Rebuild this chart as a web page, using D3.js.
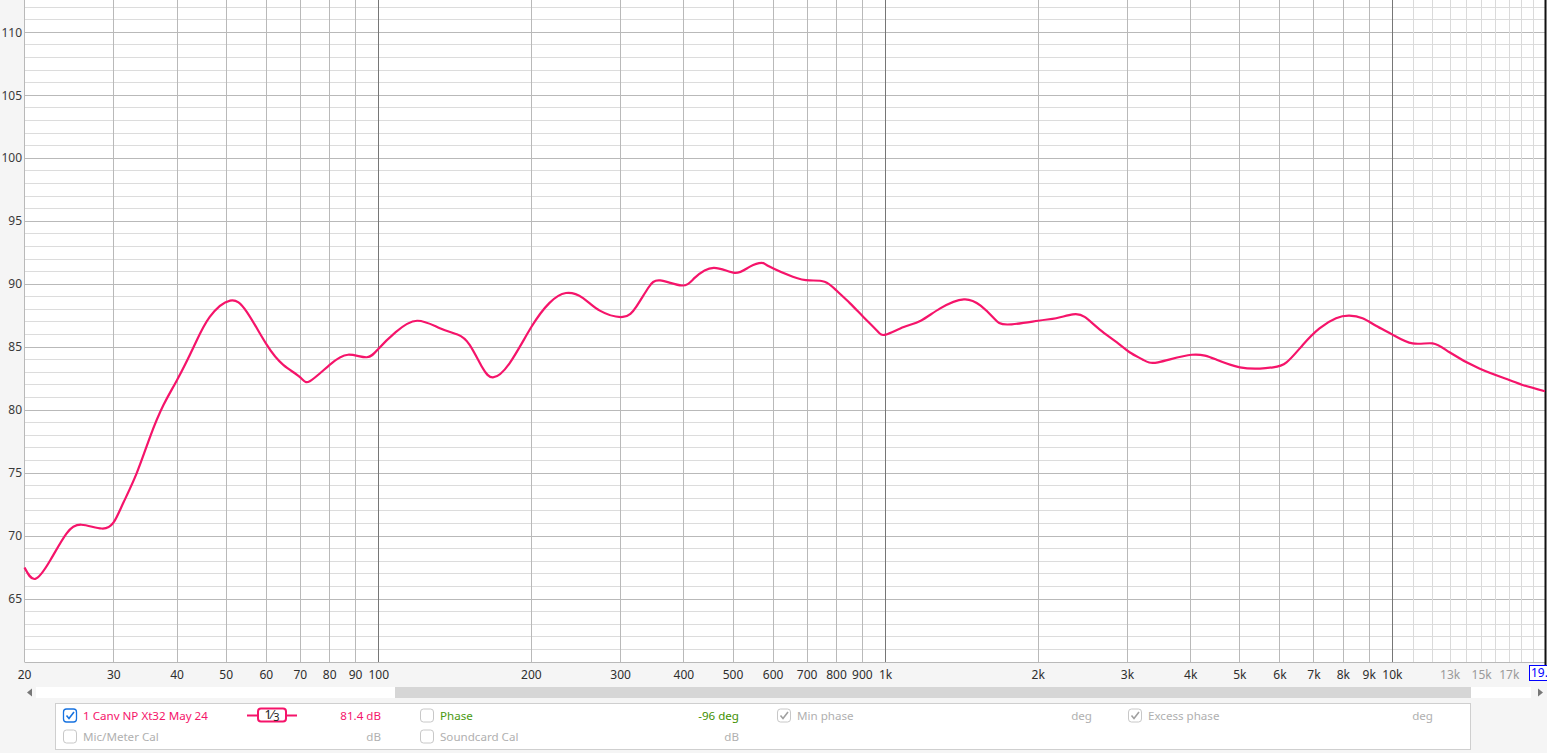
<!DOCTYPE html>
<html><head><meta charset="utf-8">
<script src="https://cdn.jsdelivr.net/npm/d3@7"></script>
<style>
html,body{margin:0;padding:0;background:#f5f5f5;overflow:hidden;}
svg{display:block;font-family:"Noto Sans","Open Sans",sans-serif;}
</style></head>
<body>
<svg id="c" width="1547" height="753"></svg>
<script>
// ---- data ----
const freqs = [20,21.0,22.5,24.2,25.9,28.4,30,31.3,33.3,35.4,37.6,40,43.1,46.4,50.9,54.9,60.1,64.8,70,73.1,80,87,94.7,100,108,119,132,143,151,160,168,181,200,217,234,253,273,303,322,340,359,396,420,458,504,540,570,590,656,708,758,800,850,904,962,1000,1086,1173,1284,1427,1540,1636,1738,2000,2170,2342,2470,2646,2856,3030,3220,3448,4020,4500,5000,5480,5816,6180,6660,7180,7740,8220,8730,9280,10000,10960,12000,12960,14840,17000,18060,20000];
const spl = [67.5,66.6,68.1,70.2,70.9,70.6,71.1,72.6,75.0,77.9,80.4,82.4,85.0,87.4,88.7,87.8,85.2,83.6,82.6,82.3,83.6,84.4,84.2,84.9,86.2,87.1,86.5,86.0,85.2,83.4,82.6,83.7,86.6,88.5,89.3,88.9,87.9,87.4,88.2,89.7,90.3,89.9,90.5,91.3,90.9,91.4,91.7,91.4,90.6,90.3,90.2,89.5,88.5,87.4,86.3,86.0,86.6,87.1,88.1,88.8,88.3,87.3,86.8,87.1,87.3,87.6,87.4,86.4,85.4,84.6,84.0,83.8,84.4,84.0,83.4,83.3,83.4,83.8,85.2,86.5,87.3,87.5,87.3,86.7,86.0,85.3,85.3,84.6,83.3,82.4,82.0,81.5];
const yTicks = [65,70,75,80,85,90,95,100,105,110];
const xMajorTicks = [20,30,40,50,60,70,80,90,100,200,300,400,500,600,700,800,900,1000,2000,3000,4000,5000,6000,7000,8000,9000,10000];
const xMinorTicks = [11000,12000,13000,14000,15000,16000,17000,18000,19000];
const xMinorLabels = [13000,15000,17000];
const decadeTicks = [100,1000,10000];
const seriesName = "1 Canv NP Xt32 May 24";
const seriesLevel = "81.4 dB";
const phaseValue = "-96 deg";

// ---- layout ----
const L = 24.5, R = 1545, T = 0, B = 662;
const svg = d3.select("#c");
const x = d3.scaleLog().domain([20, 20000]).range([L, R]);
const y = d3.scaleLinear().domain([60, 112.57]).range([B, T]);
const crisp = v => Math.round(v - 0.5) + 0.5;
const fmt = f => f >= 1000 ? (f/1000) + "k" : String(f);
const pink = "#f5146a";

svg.append("rect").attr("x", L).attr("y", T).attr("width", R - L).attr("height", B - T).attr("fill", "#fff");

// horizontal grid
const g = svg.append("g");
d3.range(60, 113).forEach(v => {
  g.append("line").attr("x1", L).attr("x2", R).attr("y1", crisp(y(v))).attr("y2", crisp(y(v)))
   .attr("stroke", v % 5 === 0 ? "#b9b9b9" : "#dcdcdc").attr("stroke-width", 1);
});
// vertical grid
xMinorTicks.forEach(f => {
  g.append("line").attr("x1", crisp(x(f))).attr("x2", crisp(x(f))).attr("y1", T).attr("y2", B)
   .attr("stroke", "#dadada");
});
xMajorTicks.forEach(f => {
  const dec = decadeTicks.includes(f);
  g.append("line").attr("x1", crisp(x(f))).attr("x2", crisp(x(f))).attr("y1", T).attr("y2", B)
   .attr("stroke", dec ? "#767676" : "#b9b9b9");
});
// right border
svg.append("line").attr("x1", 1545.5).attr("x2", 1545.5).attr("y1", 0).attr("y2", 665).attr("stroke", "#111").attr("stroke-width", 2);

// curve
const line = d3.line().x((d, i) => x(freqs[i])).y(d => y(d)).curve(d3.curveNatural);
svg.append("path").datum(spl).attr("d", line).attr("fill", "none").attr("stroke", pink).attr("stroke-width", 2.2);

// y labels
yTicks.forEach(v => {
  svg.append("text").attr("x", 22).attr("y", y(v)).attr("dy", "0.35em").attr("text-anchor", "end")
    .attr("font-size", 12).attr("fill", "#3a3a3a").text(v);
});
// x labels
xMajorTicks.forEach(f => {
  svg.append("text").attr("x", x(f)).attr("y", 675).attr("dy", "0.35em").attr("text-anchor", "middle")
    .attr("font-size", 12).attr("fill", "#2e2e2e").text(fmt(f));
});
xMinorLabels.forEach(f => {
  svg.append("text").attr("x", x(f)).attr("y", 675).attr("dy", "0.35em").attr("text-anchor", "middle")
    .attr("font-size", 12).attr("fill", "#9a9a9a").text(fmt(f));
});
// end label box
svg.append("rect").attr("x", 1529.5).attr("y", 665.5).attr("width", 20).attr("height", 15).attr("fill", "#fff").attr("stroke", "#0000ff");
svg.append("text").attr("x", 1531).attr("y", 673).attr("dy", "0.35em").attr("font-size", 12).attr("fill", "#0000ff").text("19.");

// scrollbar
svg.append("rect").attr("x", 36).attr("y", 687).attr("width", 1495).attr("height", 11).attr("fill", "#fff");
svg.append("rect").attr("x", 395).attr("y", 687).attr("width", 1076).attr("height", 11).attr("fill", "#d6d6d6");
svg.append("path").attr("d", "M27,692.5 L32,688.5 L32,696.5 Z").attr("fill", "#777");
svg.append("path").attr("d", "M1538,688.5 L1543,692.5 L1538,696.5 Z").attr("fill", "#777");

// legend
svg.append("rect").attr("x", 55.5).attr("y", 703.5).attr("width", 1415).attr("height", 46).attr("fill", "#fff").attr("stroke", "#cfcfcf");
function checkbox(cx, cy, checked, blue) {
  const stroke = blue ? "#1672e0" : "#c8c8c8";
  svg.append("rect").attr("x", cx + 0.5).attr("y", cy + 0.5).attr("width", 13).attr("height", 13).attr("rx", 3)
    .attr("fill", "#fff").attr("stroke", stroke).attr("stroke-width", blue ? 1.3 : 1);
  if (checked) svg.append("path").attr("d", `M${cx+3.5},${cy+7} L${cx+6},${cy+10} L${cx+11},${cy+3.5}`)
    .attr("fill", "none").attr("stroke", blue ? "#1672e0" : "#a0a0a0").attr("stroke-width", 1.6);
}
function txt(tx, ty, s, color, anchor) {
  svg.append("text").attr("x", tx).attr("y", ty).attr("dy", "0.35em").attr("text-anchor", anchor || "start")
    .attr("font-size", 11.6).attr("fill", color).text(s);
}
const r1 = 715.5, r2 = 736.5;
checkbox(63, 708.5, true, true);
txt(83, r1, seriesName, pink);
// smoothing badge
svg.append("line").attr("x1", 247).attr("x2", 297).attr("y1", r1).attr("y2", r1).attr("stroke", pink).attr("stroke-width", 2);
svg.append("rect").attr("x", 258).attr("y", 708.5).attr("width", 28).attr("height", 13).attr("rx", 3).attr("fill", "#fff").attr("stroke", pink).attr("stroke-width", 2);
const bt = svg.append("text").attr("x", 272).attr("y", r1 - 1).attr("dy", "0.35em").attr("text-anchor", "middle").attr("font-size", 12.5).attr("fill", "#222");
bt.append("tspan").text("1⁄");
bt.append("tspan").attr("font-size", 11).attr("dy", "2.5").text("3");
txt(381, r1, seriesLevel, pink, "end");
checkbox(420, 708.5, false, false);
txt(440, r1, "Phase", "#4a9a10");
txt(739, r1, phaseValue, "#3f9000", "end");
checkbox(777, 708.5, true, false);
txt(797, r1, "Min phase", "#b0b0b0");
txt(1092, r1, "deg", "#b0b0b0", "end");
checkbox(1128, 708.5, true, false);
txt(1148, r1, "Excess phase", "#b0b0b0");
txt(1433, r1, "deg", "#b0b0b0", "end");
checkbox(63, 729.5, false, false);
txt(83, r2, "Mic/Meter Cal", "#b0b0b0");
txt(381, r2, "dB", "#b0b0b0", "end");
checkbox(420, 729.5, false, false);
txt(440, r2, "Soundcard Cal", "#b0b0b0");
txt(739, r2, "dB", "#b0b0b0", "end");
</script>
</body></html>
